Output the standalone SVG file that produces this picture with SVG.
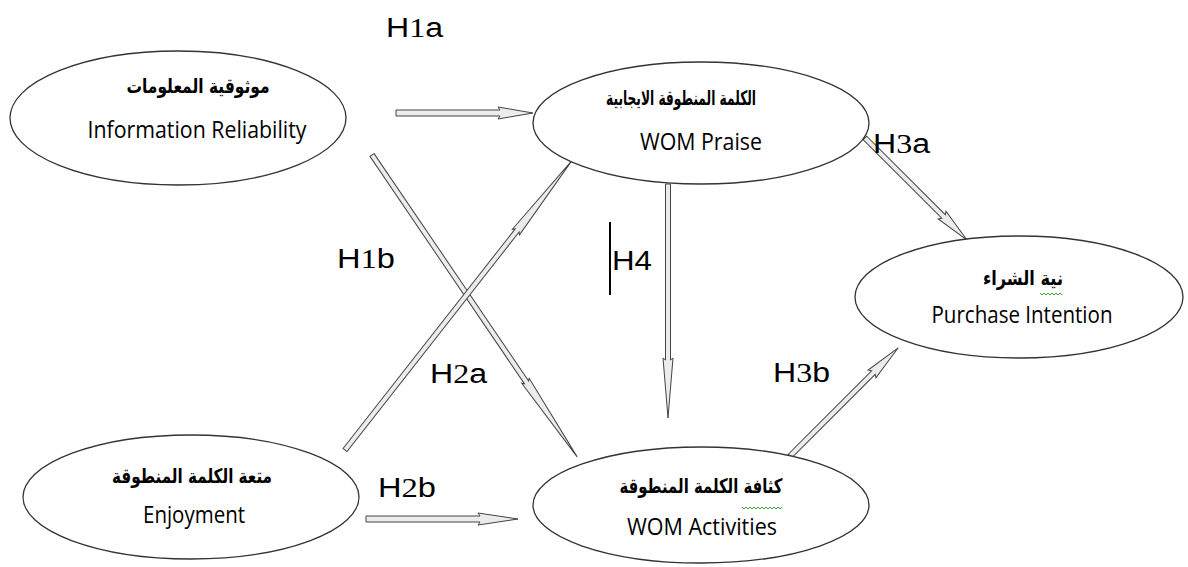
<svg xmlns="http://www.w3.org/2000/svg" width="1188" height="567" viewBox="0 0 1188 567">
<style>
.node ellipse{fill:#fff;stroke:#333;stroke-width:1.3}
.ar{font-family:"DejaVu Sans",sans-serif;font-weight:bold;font-size:20px;fill:#000;text-anchor:middle}
.en{font-family:"Open Sans","Noto Sans",sans-serif;font-size:23px;fill:#000;text-anchor:middle}
.lbl{font-family:"Liberation Sans",Arial,sans-serif;font-size:27px;fill:#000}
.dg{font-family:"Liberation Serif",serif}
.arr polygon{fill:#ececec;stroke:#444;stroke-width:1}
.sq{fill:none;stroke:#3a9b3a;stroke-width:1}
</style>
<rect width="1188" height="567" fill="#fff"/>
<g id="connectors" class="arr">
<g transform="translate(396,113)"><polygon points="0,-3 104,-3 102,-6 137,0 102,6 104,3 0,3"/></g>
<g transform="translate(372,155) rotate(55.8)"><polygon points="0,-2.5 275,-2.5 273,-4.5 365,0 273,4.5 275,2.5 0,2.5"/></g>
<g transform="translate(345,450) rotate(-51.9)"><polygon points="0,-2.5 279,-2.5 277,-4.5 368,0 277,4.5 279,2.5 0,2.5"/></g>
<g transform="translate(668,184) rotate(90)"><polygon points="0,-2.5 176,-2.5 174,-5 234,0 174,5 176,2.5 0,2.5"/></g>
<g transform="translate(865,138) rotate(45)"><polygon points="0,-2.5 111,-2.5 109,-5.5 144,0 109,5.5 111,2.5 0,2.5"/></g>
<g transform="translate(790,456) rotate(-45)"><polygon points="0,-2.5 118,-2.5 116,-5.5 153,0 116,5.5 118,2.5 0,2.5"/></g>
<g transform="translate(366,519)"><polygon points="0,-3 114,-3 112,-6 152,0 112,6 114,3 0,3"/></g>
</g>
<g id="n-info" class="node">
<ellipse cx="178" cy="118" rx="168" ry="67"/>
<text class="ar" x="198" y="93" textLength="143" lengthAdjust="spacingAndGlyphs">موثوقية المعلومات</text>
<text class="en" x="197" y="138" textLength="219" lengthAdjust="spacingAndGlyphs">Information Reliability</text>
</g>
<g id="n-praise" class="node">
<ellipse cx="701" cy="123" rx="168" ry="61"/>
<text class="ar" x="681" y="105" textLength="150" lengthAdjust="spacingAndGlyphs">الكلمة المنطوقة الايجابية</text>
<text class="en" x="701" y="150" textLength="122" lengthAdjust="spacingAndGlyphs">WOM Praise</text>
</g>
<g id="n-purchase" class="node">
<ellipse cx="1019" cy="297" rx="164" ry="61"/>
<text class="ar" x="1023" y="285" textLength="80" lengthAdjust="spacingAndGlyphs">نية الشراء</text>
<path class="sq" d="M1040,293 l2,2 l2,-2 l2,2 l2,-2 l2,2 l2,-2 l2,2 l2,-2 l2,2 l2,-2 l2,2"/>
<text class="en" x="1022" y="323" textLength="181" lengthAdjust="spacingAndGlyphs">Purchase Intention</text>
</g>
<g id="n-enjoy" class="node">
<ellipse cx="191" cy="497" rx="168" ry="62"/>
<text class="ar" x="192" y="483" textLength="160" lengthAdjust="spacingAndGlyphs">متعة الكلمة المنطوقة</text>
<text class="en" x="194" y="523" textLength="102" lengthAdjust="spacingAndGlyphs">Enjoyment</text>
</g>
<g id="n-activities" class="node">
<ellipse cx="701" cy="505" rx="168" ry="58"/>
<text class="ar" x="701" y="493" textLength="163" lengthAdjust="spacingAndGlyphs">كثافة الكلمة المنطوقة</text>
<path class="sq" d="M742,507 l2,2 l2,-2 l2,2 l2,-2 l2,2 l2,-2 l2,2 l2,-2 l2,2 l2,-2 l2,2 l2,-2 l2,2 l2,-2 l2,2 l2,-2 l2,2 l2,-2 l2,2 l2,-2"/>
<text class="en" x="702" y="535" textLength="150" lengthAdjust="spacingAndGlyphs">WOM Activities</text>
</g>
<g id="labels">
<text class="lbl" x="386" y="37" textLength="57" lengthAdjust="spacingAndGlyphs">H<tspan class="dg">1</tspan>a</text>
<text class="lbl" x="337" y="268" textLength="58" lengthAdjust="spacingAndGlyphs">H<tspan class="dg">1</tspan>b</text>
<text class="lbl" x="430" y="383" textLength="57" lengthAdjust="spacingAndGlyphs">H<tspan class="dg">2</tspan>a</text>
<text class="lbl" x="378" y="497" textLength="58" lengthAdjust="spacingAndGlyphs">H<tspan class="dg">2</tspan>b</text>
<line x1="610" y1="222" x2="610" y2="295" stroke="#000" stroke-width="2"/>
<text class="lbl" x="612" y="270" textLength="40" lengthAdjust="spacingAndGlyphs">H4</text>
<text class="lbl" x="873" y="153" textLength="57" lengthAdjust="spacingAndGlyphs">H<tspan class="dg">3</tspan>a</text>
<text class="lbl" x="773" y="382" textLength="57" lengthAdjust="spacingAndGlyphs">H<tspan class="dg">3</tspan>b</text>
</g>
</svg>
